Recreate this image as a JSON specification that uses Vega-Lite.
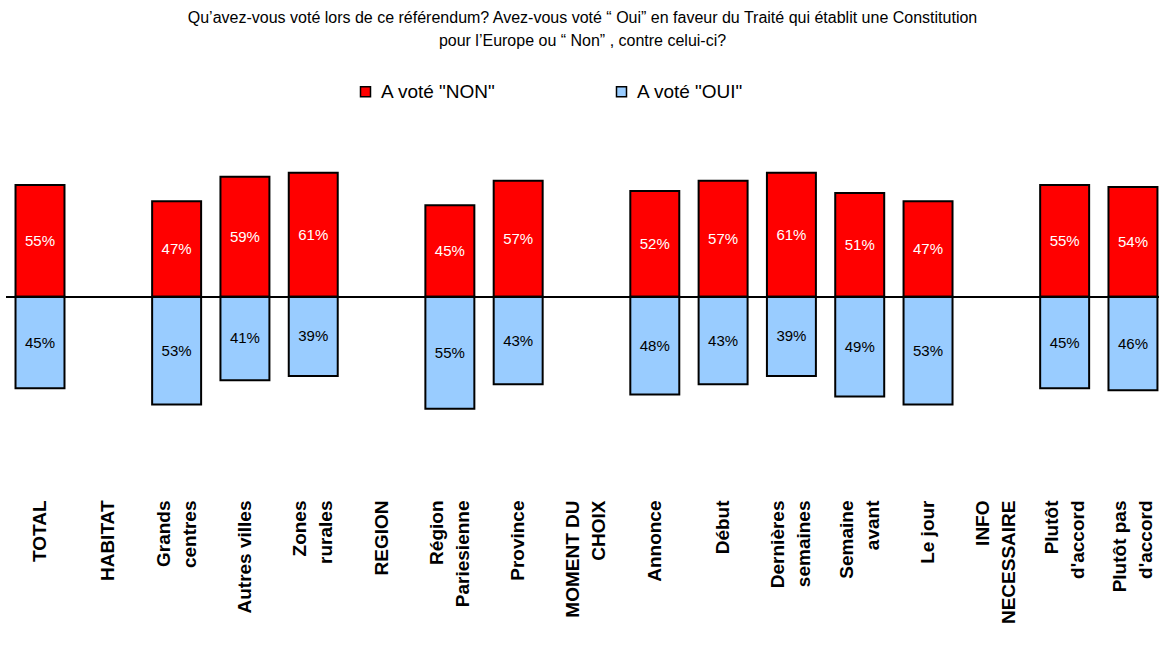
{
  "$schema": "https://vega.github.io/schema/vega-lite/v6.json",
  "autosize": "none",
  "width": 1153,
  "height": 360,
  "padding": {"left": 6, "top": 130, "right": 0, "bottom": 175},
  "background": "white",
  "title": {
    "text": ["Qu’avez-vous voté lors de ce référendum? Avez-vous voté “ Oui”  en faveur du Traité qui établit une Constitution", "pour l’Europe ou “ Non” , contre celui-ci?"],
    "font": "Liberation Sans",
    "fontSize": 16,
    "fontWeight": "normal",
    "color": "#000000",
    "anchor": "middle",
    "lineHeight": 23,
    "offset": 33
  },
  "data": {
    "values": [
      {"cat": "TOTAL", "vote": "A voté \"NON\"", "pct": 55},
      {"cat": "TOTAL", "vote": "A voté \"OUI\"", "pct": 45},
      {"cat": "Grands centres", "vote": "A voté \"NON\"", "pct": 47},
      {"cat": "Grands centres", "vote": "A voté \"OUI\"", "pct": 53},
      {"cat": "Autres villes", "vote": "A voté \"NON\"", "pct": 59},
      {"cat": "Autres villes", "vote": "A voté \"OUI\"", "pct": 41},
      {"cat": "Zones rurales", "vote": "A voté \"NON\"", "pct": 61},
      {"cat": "Zones rurales", "vote": "A voté \"OUI\"", "pct": 39},
      {"cat": "Région Pariesienne", "vote": "A voté \"NON\"", "pct": 45},
      {"cat": "Région Pariesienne", "vote": "A voté \"OUI\"", "pct": 55},
      {"cat": "Province", "vote": "A voté \"NON\"", "pct": 57},
      {"cat": "Province", "vote": "A voté \"OUI\"", "pct": 43},
      {"cat": "Annonce", "vote": "A voté \"NON\"", "pct": 52},
      {"cat": "Annonce", "vote": "A voté \"OUI\"", "pct": 48},
      {"cat": "Début", "vote": "A voté \"NON\"", "pct": 57},
      {"cat": "Début", "vote": "A voté \"OUI\"", "pct": 43},
      {"cat": "Dernières semaines", "vote": "A voté \"NON\"", "pct": 61},
      {"cat": "Dernières semaines", "vote": "A voté \"OUI\"", "pct": 39},
      {"cat": "Semaine avant", "vote": "A voté \"NON\"", "pct": 51},
      {"cat": "Semaine avant", "vote": "A voté \"OUI\"", "pct": 49},
      {"cat": "Le jour", "vote": "A voté \"NON\"", "pct": 47},
      {"cat": "Le jour", "vote": "A voté \"OUI\"", "pct": 53},
      {"cat": "Plutôt d'accord", "vote": "A voté \"NON\"", "pct": 55},
      {"cat": "Plutôt d'accord", "vote": "A voté \"OUI\"", "pct": 45},
      {"cat": "Plutôt pas d'accord", "vote": "A voté \"NON\"", "pct": 54},
      {"cat": "Plutôt pas d'accord", "vote": "A voté \"OUI\"", "pct": 46}
    ]
  },
  "encoding": {
    "x": {
      "field": "cat",
      "type": "nominal",
      "sort": null,
      "scale": {
        "domain": ["TOTAL", "HABITAT", "Grands centres", "Autres villes", "Zones rurales", "REGION", "Région Pariesienne", "Province", "MOMENT DU CHOIX", "Annonce", "Début", "Dernières semaines", "Semaine avant", "Le jour", "INFO NECESSAIRE", "Plutôt d'accord", "Plutôt pas d'accord"],
        "paddingInner": 0.283,
        "paddingOuter": 0.081,
        "align": 0.86
      },
      "axis": {
        "title": null,
        "orient": "bottom",
        "domain": false,
        "ticks": false,
        "labelAngle": -90,
        "labelPadding": 10,
        "labelFont": "Liberation Sans",
        "labelFontSize": 19,
        "labelFontWeight": "bold",
        "labelColor": "#000000",
        "labelLineHeight": 26,
        "labelLimit": 0,
        "labelOverlap": false,
        "labelOffset": {
          "condition": {"test": "indexof(datum.label, ' ') >= 0 && datum.label != 'Autres villes' && datum.label != 'Le jour'", "value": -13},
          "value": 0
        },
        "labelExpr": "(indexof(datum.label, ' ') < 0 || datum.label == 'Autres villes' || datum.label == 'Le jour') ? datum.label : [slice(datum.label, 0, lastindexof(datum.label, ' ')), slice(datum.label, lastindexof(datum.label, ' ') + 1)]"
      }
    }
  },
  "layer": [
    {
      "transform": [{"filter": "datum.vote == 'A voté \"NON\"'"}],
      "mark": {"type": "bar", "stroke": "#000000", "strokeWidth": 2},
      "encoding": {
        "y": {"field": "pct", "type": "quantitative", "scale": {"domain": [-95, 82], "nice": false, "zero": false}, "axis": null},
        "color": {
          "field": "vote",
          "type": "nominal",
          "scale": {"domain": ["A voté \"NON\"", "A voté \"OUI\""], "range": ["#FF0000", "#99CCFF"]},
          "legend": {
            "title": null,
            "orient": "none",
            "direction": "horizontal",
            "legendX": 350,
            "legendY": -48,
            "symbolType": "square",
            "symbolSize": 100,
            "symbolStrokeColor": "#000000",
            "symbolStrokeWidth": 1.5,
            "symbolOpacity": 1,
            "labelFont": "Liberation Sans",
            "labelFontSize": 19,
            "labelColor": "#000000",
            "labelOffset": 6,
            "columnPadding": 116,
            "labelLimit": 0,
            "padding": 0
          }
        }
      }
    },
    {
      "transform": [{"filter": "datum.vote == 'A voté \"NON\"'"}],
      "mark": {"type": "text", "font": "Liberation Sans", "fontSize": 15, "color": "#FFFFFF", "baseline": "middle", "align": "center", "text": {"expr": "datum.pct + '%'"}},
      "encoding": {
        "y": {"field": "pct", "type": "quantitative", "scale": {"domain": [-190, 164], "nice": false, "zero": false}, "axis": null}
      }
    },
    {
      "transform": [{"filter": "datum.vote == 'A voté \"OUI\"'"}],
      "mark": {"type": "bar", "stroke": "#000000", "strokeWidth": 2},
      "encoding": {
        "y": {"field": "pct", "type": "quantitative", "scale": {"domain": [-82, 95], "nice": false, "zero": false, "reverse": true}, "axis": null},
        "color": {"field": "vote", "type": "nominal"}
      }
    },
    {
      "transform": [{"filter": "datum.vote == 'A voté \"OUI\"'"}],
      "mark": {"type": "text", "font": "Liberation Sans", "fontSize": 15, "color": "#000000", "baseline": "middle", "align": "center", "text": {"expr": "datum.pct + '%'"}},
      "encoding": {
        "y": {"field": "pct", "type": "quantitative", "scale": {"domain": [-164, 190], "nice": false, "zero": false, "reverse": true}, "axis": null}
      }
    },
    {
      "mark": {"type": "rule", "color": "#000000", "strokeWidth": 1.5},
      "encoding": {
        "x": null,
        "y": {"datum": 0, "type": "quantitative", "scale": {"domain": [-95, 82], "nice": false, "zero": false}, "axis": null}
      }
    }
  ],
  "resolve": {"scale": {"y": "independent"}},
  "config": {
    "view": {"stroke": null}
  }
}
